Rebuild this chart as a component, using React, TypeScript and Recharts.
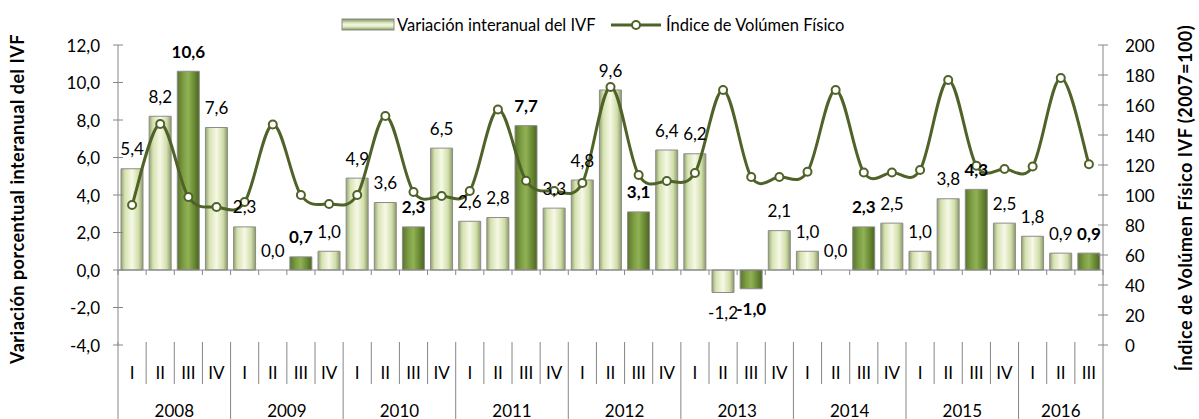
import { Bar, Cell, ComposedChart, Line, ReferenceLine, XAxis, YAxis } from "recharts";

document.body.style.margin = "0";

const yearLabels = ["2008", "2009", "2010", "2011", "2012", "2013", "2014", "2015", "2016"];
const quartersPerYear = [4, 4, 4, 4, 4, 4, 4, 4, 3];
const quarterLabels = ["I", "II", "III", "IV"];

// Variación interanual del IVF (%)
const variacion = [
  5.4, 8.2, 10.6, 7.6, 2.3, 0.0, 0.7, 1.0, 4.9, 3.6, 2.3, 6.5, 2.6, 2.8, 7.7, 3.3, 4.8, 9.6,
  3.1, 6.4, 6.2, -1.2, -1.0, 2.1, 1.0, 0.0, 2.3, 2.5, 1.0, 3.8, 4.3, 2.5, 1.8, 0.9, 0.9,
];

// Índice de Volúmen Físico (2007=100)
const ivf = [
  93.3, 147.3, 98.7, 92.0, 95.3, 147.0, 100.0, 94.0, 100.0, 152.7, 102.0, 99.3, 102.7, 157.0,
  109.5, 102.7, 108.0, 172.0, 113.3, 109.3, 114.7, 170.0, 112.0, 112.0, 115.5, 170.0, 115.0,
  115.0, 116.7, 176.7, 119.5, 117.3, 119.0, 178.0, 120.5,
];

const leftTicks = [-4, -2, 0, 2, 4, 6, 8, 10, 12];
const rightTicks = [0, 20, 40, 60, 80, 100, 120, 140, 160, 180, 200];

const rows = yearLabels.flatMap((year, yi) =>
  quarterLabels.slice(0, quartersPerYear[yi]).map((q) => ({ year, q, yearSize: quartersPerYear[yi] }))
).map((r, i) => ({ ...r, variacion: variacion[i], ivf: ivf[i] }));

const W = 1199;
const H = 419;
const PLOT_LEFT = 118;
const PLOT_RIGHT = 1103;
const PLOT_TOP = 45;
const PLOT_BOTTOM = 345;
const ZERO_Y = PLOT_TOP + ((PLOT_BOTTOM - PLOT_TOP) * 12) / 16;
const BAND = (PLOT_RIGHT - PLOT_LEFT) / rows.length;

const AXIS = "#868686";
const LINE = "#4f6228";
const FONT = "Lato, 'Open Sans', sans-serif";

const fmt = (v: number) => v.toFixed(1).replace(".", ",");

// Excel-style smoothed line (Catmull-Rom through every point)
function excelSmooth(context: any) {
  let pts: number[][] = [];
  return {
    areaStart() {},
    areaEnd() {},
    lineStart() {
      pts = [];
    },
    point(x: number, y: number) {
      pts.push([+x, +y]);
    },
    lineEnd() {
      if (!pts.length) return;
      context.moveTo(pts[0][0], pts[0][1]);
      for (let i = 0; i < pts.length - 1; i++) {
        const p0 = pts[i - 1] || pts[i];
        const p1 = pts[i];
        const p2 = pts[i + 1];
        const p3 = pts[i + 2] || p2;
        context.bezierCurveTo(
          p1[0] + (p2[0] - p0[0]) / 6,
          p1[1] + (p2[1] - p0[1]) / 6,
          p2[0] - (p3[0] - p1[0]) / 6,
          p2[1] - (p3[1] - p1[1]) / 6,
          p2[0],
          p2[1]
        );
      }
    },
  };
}

function LeftTick({ y, payload }: any) {
  return (
    <g>
      <line x1={PLOT_LEFT - 5} x2={PLOT_LEFT + 5} y1={y} y2={y} stroke={AXIS} />
      <text x={100} y={y} textAnchor="end" dominantBaseline="central" fontSize={17} fill="#000">
        {fmt(payload.value)}
      </text>
    </g>
  );
}

function RightTick({ y, payload }: any) {
  return (
    <g>
      <line x1={PLOT_RIGHT - 5} x2={PLOT_RIGHT + 5} y1={y} y2={y} stroke={AXIS} />
      <text x={1125} y={y} textAnchor="start" dominantBaseline="central" fontSize={17} fill="#000">
        {payload.value}
      </text>
    </g>
  );
}

function QuarterTick({ x, index }: any) {
  const row = rows[index];
  if (!row) return null;
  const left = x - BAND / 2;
  const right = x + BAND / 2;
  const yearStart = row.q === "I";
  const last = index === rows.length - 1;
  return (
    <g>
      <line x1={left} x2={left} y1={ZERO_Y} y2={ZERO_Y + 5} stroke={AXIS} />
      <line x1={left} x2={left} y1={PLOT_BOTTOM - 3} y2={yearStart ? H : 384} stroke={AXIS} />
      {last && <line x1={right} x2={right} y1={ZERO_Y} y2={ZERO_Y + 5} stroke={AXIS} />}
      {last && <line x1={right} x2={right} y1={PLOT_BOTTOM} y2={H} stroke={AXIS} />}
      <text x={x} y={372} textAnchor="middle" dominantBaseline="central" fontSize={17} fill="#000">
        {row.q}
      </text>
      {yearStart && (
        <text x={left + (row.yearSize * BAND) / 2} y={410} textAnchor="middle" dominantBaseline="central" fontSize={17} fill="#000">
          {row.year}
        </text>
      )}
    </g>
  );
}

// value label drawn from the (invisible) line through the bar ends, so every bar gets one
function BarValueLabel({ x, y, value, index }: any) {
  const cy = value < 0 ? y + 20 : y - 20;
  const bold = rows[index]?.q === "III";
  return (
    <text
      x={x}
      y={cy}
      textAnchor="middle"
      dominantBaseline="central"
      fontSize={17}
      fontWeight={bold ? 700 : 400}
      fill="#000"
    >
      {fmt(value)}
    </text>
  );
}

function AxisTitle({ cx, cy, angle, text }: { cx: number; cy: number; angle: number; text: string }) {
  return (
    <text
      x={cx}
      y={cy}
      transform={`rotate(${angle} ${cx} ${cy})`}
      textAnchor="middle"
      dominantBaseline="central"
      fontSize={18}
      fontWeight={700}
      letterSpacing={0.5}
      fill="#000"
    >
      {text}
    </text>
  );
}

export default function App() {
  return (
    <div style={{ position: "relative", width: W, height: H, fontFamily: FONT, background: "#fff" }}>
      <ComposedChart
        width={W}
        height={H}
        data={rows}
        margin={{ top: PLOT_TOP, right: 0, bottom: 0, left: 0 }}
        barSize={22}
        style={{ fontFamily: FONT }}
      >
        <defs>
          <linearGradient id="lightBar" x1="0" y1="0" x2="1" y2="0">
            <stop offset="0%" stopColor="#93a370" />
            <stop offset="18%" stopColor="#d6e2b2" />
            <stop offset="50%" stopColor="#f6f9e6" />
            <stop offset="80%" stopColor="#d0dda9" />
            <stop offset="100%" stopColor="#8b9a68" />
          </linearGradient>
          <linearGradient id="darkBar" x1="0" y1="0" x2="1" y2="0">
            <stop offset="0%" stopColor="#5a772c" />
            <stop offset="30%" stopColor="#80a046" />
            <stop offset="50%" stopColor="#90b154" />
            <stop offset="75%" stopColor="#6c8c36" />
            <stop offset="100%" stopColor="#4b6620" />
          </linearGradient>
        </defs>
        <XAxis
          dataKey="q"
          interval={0}
          axisLine={false}
          tickLine={false}
          height={H - PLOT_BOTTOM}
          tick={(p: any) => <QuarterTick {...p} />}
        />
        <YAxis
          yAxisId="left"
          width={PLOT_LEFT}
          domain={[-4, 12]}
          ticks={leftTicks}
          interval={0}
          axisLine={{ stroke: AXIS }}
          tickLine={false}
          tick={(p: any) => <LeftTick {...p} />}
          label={() => <AxisTitle cx={17} cy={199} angle={-90} text="Variación porcentual interanual del IVF" />}
        />
        <YAxis
          yAxisId="right"
          orientation="right"
          width={W - PLOT_RIGHT}
          domain={[0, 200]}
          ticks={rightTicks}
          interval={0}
          axisLine={{ stroke: AXIS }}
          tickLine={false}
          tick={(p: any) => <RightTick {...p} />}
          label={() => <AxisTitle cx={1185} cy={198} angle={-90} text="Índice de Volúmen Físico IVF (2007=100)" />}
        />
        <ReferenceLine yAxisId="left" y={0} stroke={AXIS} />
        <Bar yAxisId="left" dataKey="variacion" stroke="#8c8c8c" strokeWidth={1} isAnimationActive={false}>
          {rows.map((r, i) => (
            <Cell key={i} fill={r.q === "III" ? "url(#darkBar)" : "url(#lightBar)"} />
          ))}
        </Bar>
        <Line
          yAxisId="left"
          dataKey="variacion"
          stroke="none"
          dot={false}
          activeDot={false}
          legendType="none"
          isAnimationActive={false}
          label={(p: any) => <BarValueLabel key={p.index} {...p} />}
        />
        <Line
          yAxisId="right"
          dataKey="ivf"
          type={excelSmooth as any}
          stroke={LINE}
          strokeWidth={3}
          dot={{ r: 4, fill: "#fff", stroke: LINE, strokeWidth: 2 }}
          activeDot={false}
          isAnimationActive={false}
        />
      </ComposedChart>
      <svg width={W} height={42} style={{ position: "absolute", left: 0, top: 0, pointerEvents: "none", fontFamily: FONT }}>
        <defs>
          <linearGradient id="legendBar" x1="0" y1="0" x2="0" y2="1">
            <stop offset="0%" stopColor="#7d8f55" />
            <stop offset="35%" stopColor="#dbe5bf" />
            <stop offset="55%" stopColor="#f3f8e2" />
            <stop offset="75%" stopColor="#d5e0b4" />
            <stop offset="100%" stopColor="#7d8f55" />
          </linearGradient>
        </defs>
        <rect x={342} y={19} width={52} height={11} fill="url(#legendBar)" stroke="#8c8c8c" />
        <text x={397} y={25} dominantBaseline="central" fontSize={16.5} fill="#000">
          Variación interanual del IVF
        </text>
        <line x1={611} x2={661} y1={25} y2={25} stroke={LINE} strokeWidth={3} />
        <circle cx={636} cy={25} r={4} fill="#fff" stroke={LINE} strokeWidth={2} />
        <text x={666} y={25} dominantBaseline="central" fontSize={16.5} fill="#000">
          Índice de Volúmen Físico
        </text>
      </svg>
    </div>
  );
}
